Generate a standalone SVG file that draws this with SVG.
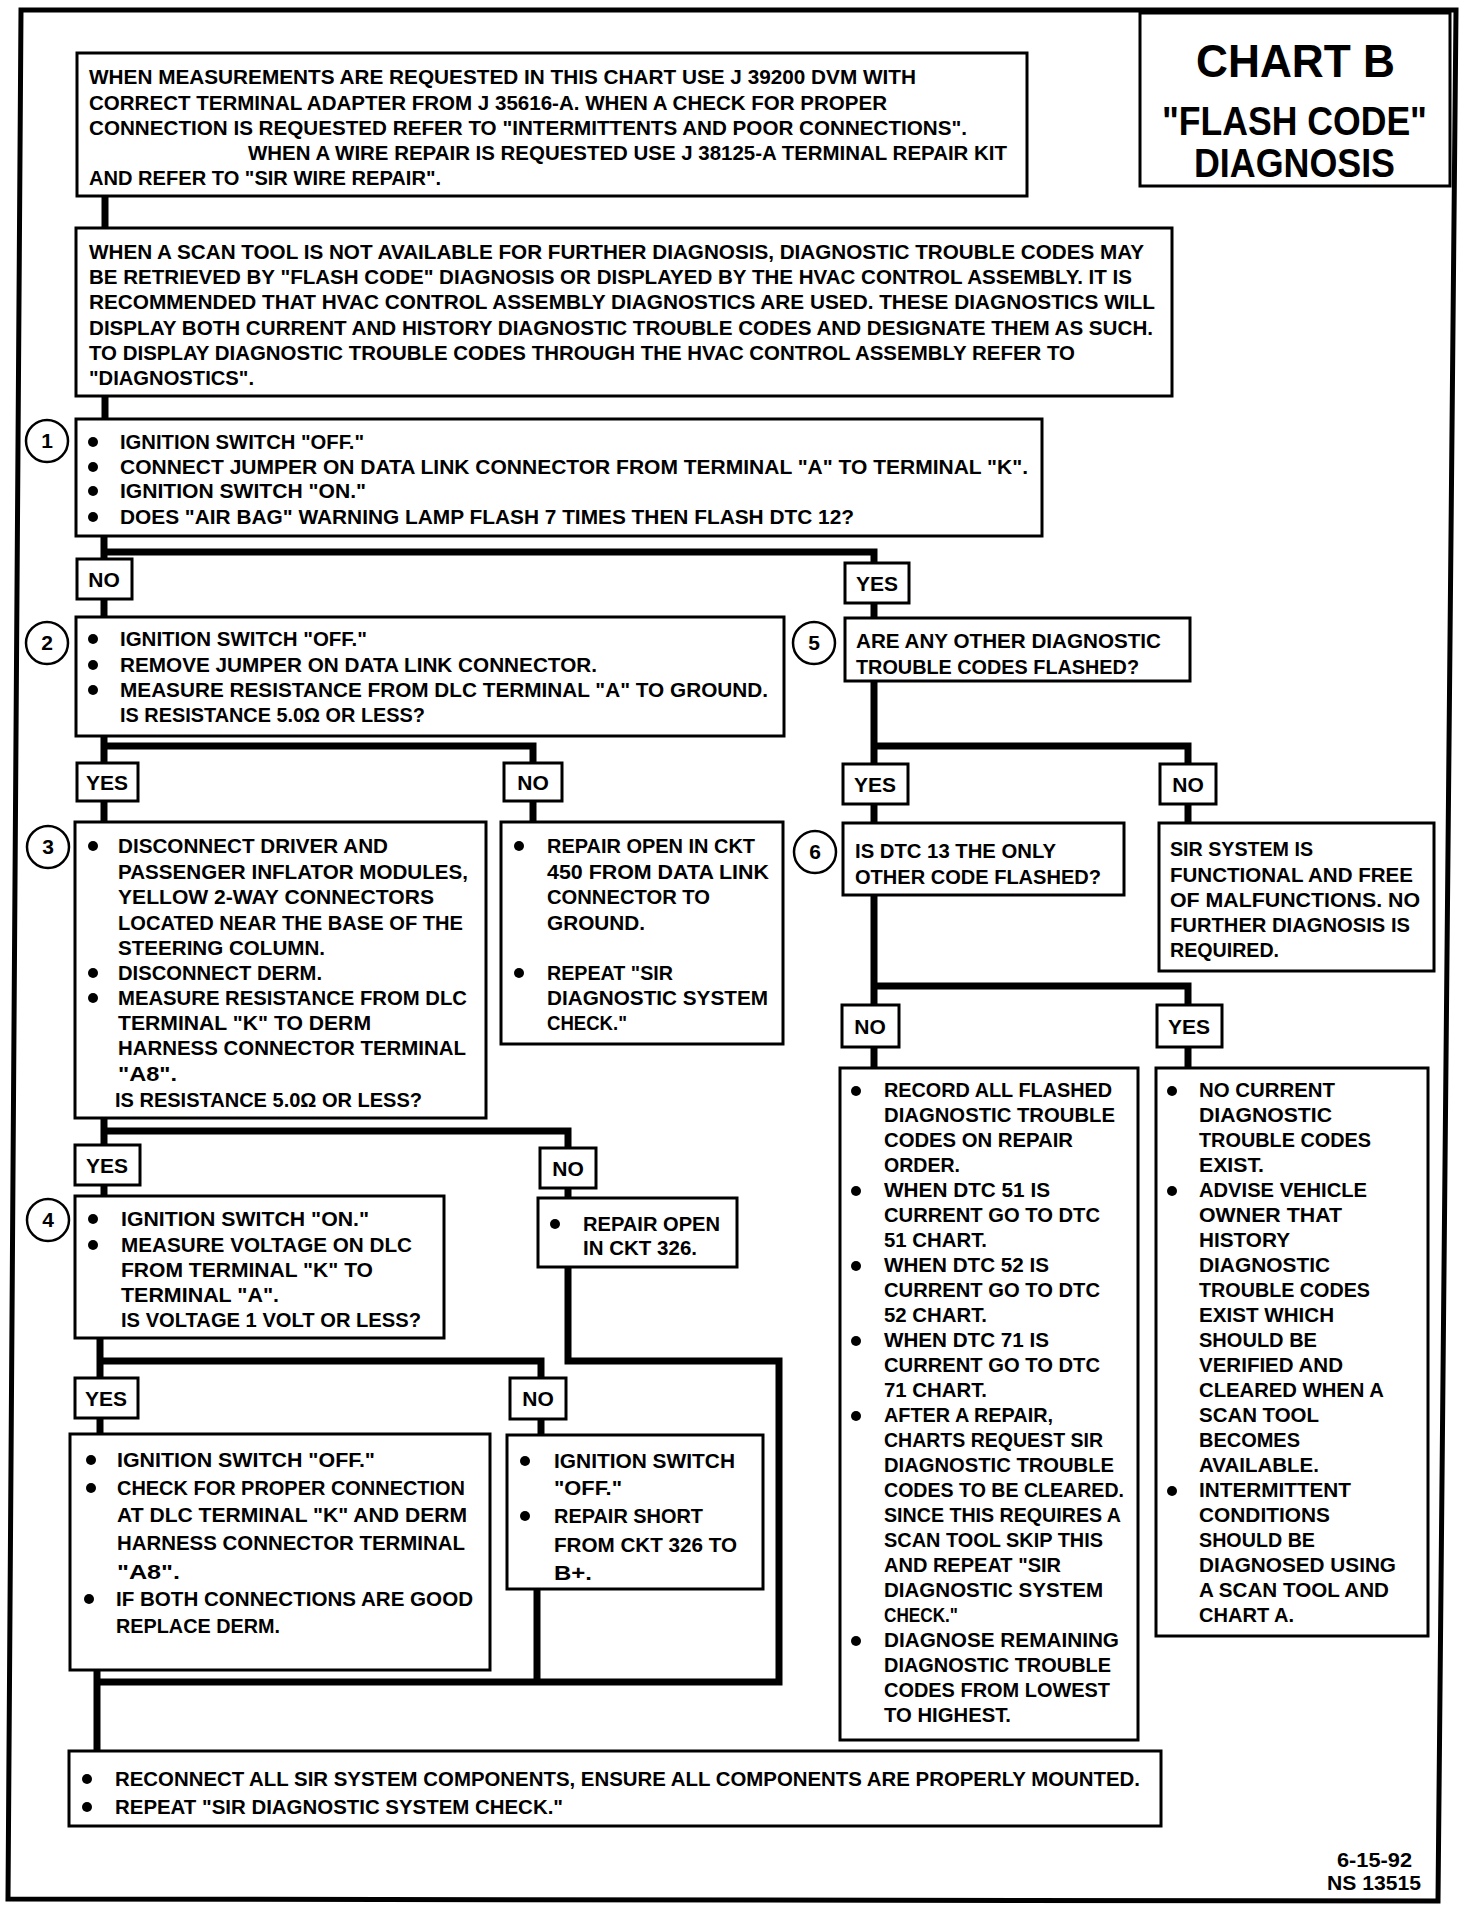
<svg xmlns="http://www.w3.org/2000/svg" width="1472" height="1912" viewBox="0 0 1472 1912">
<style>
.box{fill:#fff;stroke:#000;stroke-width:3}
.t{font-family:"Liberation Sans",Arial,sans-serif;font-weight:bold;font-size:21px;fill:#000}
.ttl{font-family:"Liberation Sans",Arial,sans-serif;font-weight:bold;fill:#000}
.m{text-anchor:middle}
.conn{fill:none;stroke:#000;stroke-width:7;stroke-linejoin:miter;stroke-linecap:butt}
.num{fill:#fff;stroke:#000;stroke-width:2.5}
.b{fill:#000}
</style>
<rect width="1472" height="1912" fill="#fff"/>
<polygon points="21,10 1456,10 1438,1901 8,1899" fill="none" stroke="#000" stroke-width="5"/>

<g id="connectors">
<path class="conn" d="M105 196V228"/>
<path class="conn" d="M105 396V419"/>
<path class="conn" d="M104 536V559M104 552H874V563"/>
<path class="conn" d="M104 599V617"/>
<path class="conn" d="M874 603V618"/>
<path class="conn" d="M104 736V763M104 746H533V763"/>
<path class="conn" d="M874 681V764M874 746H1188V764"/>
<path class="conn" d="M104 801V822"/>
<path class="conn" d="M533 801V822"/>
<path class="conn" d="M874 804V823"/>
<path class="conn" d="M1188 804V823"/>
<path class="conn" d="M104 1118V1145M104 1131H568V1148"/>
<path class="conn" d="M104 1185V1196"/>
<path class="conn" d="M568 1188V1198"/>
<path class="conn" d="M100 1338V1378M100 1361H541V1378"/>
<path class="conn" d="M100 1418V1434"/>
<path class="conn" d="M541 1419V1435"/>
<path class="conn" d="M568 1267V1361H779V1682H97"/>
<path class="conn" d="M537 1589V1682"/>
<path class="conn" d="M97 1670V1751"/>
<path class="conn" d="M874 895V1005M874 986H1188V1005"/>
<path class="conn" d="M874 1047V1068"/>
<path class="conn" d="M1188 1047V1068"/>
</g>

<g id="title">
<rect class="box" x="1140" y="13" width="310" height="173"/>
<text class="ttl" x="1196" y="77" style="font-size:46px" textLength="199" lengthAdjust="spacingAndGlyphs">CHART B</text>
<text class="ttl" x="1162" y="135" style="font-size:40px" textLength="265" lengthAdjust="spacingAndGlyphs">"FLASH CODE"</text>
<text class="ttl" x="1194" y="177" style="font-size:40px" textLength="201" lengthAdjust="spacingAndGlyphs">DIAGNOSIS</text>
</g>

<g id="noteA">
<rect class="box" x="77" y="53" width="950" height="143"/>
<text class="t" x="89" y="84" textLength="827" lengthAdjust="spacingAndGlyphs">WHEN MEASUREMENTS ARE REQUESTED IN THIS CHART USE J 39200 DVM WITH</text>
<text class="t" x="89" y="110" textLength="798" lengthAdjust="spacingAndGlyphs">CORRECT TERMINAL ADAPTER FROM J 35616-A.  WHEN A CHECK FOR PROPER</text>
<text class="t" x="89" y="135" textLength="878" lengthAdjust="spacingAndGlyphs">CONNECTION IS REQUESTED REFER TO "INTERMITTENTS AND POOR CONNECTIONS".</text>
<text class="t" x="248" y="160" textLength="759" lengthAdjust="spacingAndGlyphs">WHEN A WIRE REPAIR IS REQUESTED USE J 38125-A TERMINAL REPAIR KIT</text>
<text class="t" x="89" y="185" textLength="352" lengthAdjust="spacingAndGlyphs">AND REFER TO "SIR WIRE REPAIR".</text>
</g>

<g id="noteB">
<rect class="box" x="76" y="228" width="1096" height="168"/>
<text class="t" x="89" y="259" textLength="1055" lengthAdjust="spacingAndGlyphs">WHEN A SCAN TOOL IS NOT AVAILABLE FOR FURTHER DIAGNOSIS, DIAGNOSTIC TROUBLE CODES MAY</text>
<text class="t" x="89" y="284" textLength="1043" lengthAdjust="spacingAndGlyphs">BE RETRIEVED BY "FLASH CODE" DIAGNOSIS OR DISPLAYED BY THE HVAC CONTROL ASSEMBLY.  IT IS</text>
<text class="t" x="89" y="309" textLength="1066" lengthAdjust="spacingAndGlyphs">RECOMMENDED THAT HVAC CONTROL ASSEMBLY DIAGNOSTICS ARE USED.  THESE DIAGNOSTICS WILL</text>
<text class="t" x="89" y="335" textLength="1064" lengthAdjust="spacingAndGlyphs">DISPLAY BOTH CURRENT AND HISTORY DIAGNOSTIC TROUBLE CODES AND DESIGNATE THEM AS SUCH.</text>
<text class="t" x="89" y="360" textLength="986" lengthAdjust="spacingAndGlyphs">TO DISPLAY DIAGNOSTIC TROUBLE CODES THROUGH THE HVAC CONTROL ASSEMBLY REFER TO</text>
<text class="t" x="89" y="385" textLength="165" lengthAdjust="spacingAndGlyphs">"DIAGNOSTICS".</text>
</g>

<g id="step1">
<circle class="num" cx="47" cy="441" r="21"/>
<text class="t m" x="47" y="448">1</text>
<rect class="box" x="76" y="419" width="966" height="117"/>
<circle class="b" cx="93" cy="442" r="5"/>
<circle class="b" cx="93" cy="467" r="5"/>
<circle class="b" cx="93" cy="491" r="5"/>
<circle class="b" cx="93" cy="517" r="5"/>
<text class="t" x="120" y="449" textLength="244" lengthAdjust="spacingAndGlyphs">IGNITION SWITCH "OFF."</text>
<text class="t" x="120" y="474" textLength="908" lengthAdjust="spacingAndGlyphs">CONNECT JUMPER ON DATA LINK CONNECTOR FROM TERMINAL "A" TO TERMINAL "K".</text>
<text class="t" x="120" y="498" textLength="246" lengthAdjust="spacingAndGlyphs">IGNITION SWITCH "ON."</text>
<text class="t" x="120" y="524" textLength="734" lengthAdjust="spacingAndGlyphs">DOES  "AIR BAG" WARNING LAMP FLASH 7 TIMES THEN FLASH DTC 12?</text>
</g>

<g id="lbl1no"><rect class="box" x="77" y="559" width="55" height="40"/><text class="t m" x="104" y="587">NO</text></g>
<g id="lbl1yes"><rect class="box" x="845" y="563" width="64" height="40"/><text class="t m" x="877" y="591">YES</text></g>

<g id="step2">
<circle class="num" cx="47" cy="643" r="21"/>
<text class="t m" x="47" y="650">2</text>
<rect class="box" x="76" y="617" width="708" height="119"/>
<circle class="b" cx="93" cy="639" r="5"/>
<circle class="b" cx="93" cy="665" r="5"/>
<circle class="b" cx="93" cy="690" r="5"/>
<text class="t" x="120" y="646" textLength="247" lengthAdjust="spacingAndGlyphs">IGNITION SWITCH "OFF."</text>
<text class="t" x="120" y="672" textLength="477" lengthAdjust="spacingAndGlyphs">REMOVE JUMPER ON DATA LINK CONNECTOR.</text>
<text class="t" x="120" y="697" textLength="648" lengthAdjust="spacingAndGlyphs">MEASURE RESISTANCE FROM DLC TERMINAL "A" TO GROUND.</text>
<text class="t" x="120" y="722" textLength="305" lengthAdjust="spacingAndGlyphs">IS RESISTANCE 5.0Ω OR LESS?</text>
</g>

<g id="step5">
<circle class="num" cx="814" cy="643" r="21"/>
<text class="t m" x="814" y="650">5</text>
<rect class="box" x="845" y="618" width="345" height="63"/>
<text class="t" x="856" y="648" textLength="305" lengthAdjust="spacingAndGlyphs">ARE ANY OTHER DIAGNOSTIC</text>
<text class="t" x="856" y="674" textLength="283" lengthAdjust="spacingAndGlyphs">TROUBLE CODES FLASHED?</text>
</g>

<g id="lbl2yes"><rect class="box" x="77" y="763" width="61" height="38"/><text class="t m" x="107" y="790">YES</text></g>
<g id="lbl2no"><rect class="box" x="504" y="763" width="58" height="38"/><text class="t m" x="533" y="790">NO</text></g>
<g id="lbl5yes"><rect class="box" x="843" y="764" width="65" height="40"/><text class="t m" x="875" y="792">YES</text></g>
<g id="lbl5no"><rect class="box" x="1160" y="764" width="56" height="40"/><text class="t m" x="1188" y="792">NO</text></g>

<g id="step3">
<circle class="num" cx="48" cy="847" r="21"/>
<text class="t m" x="48" y="854">3</text>
<rect class="box" x="75" y="822" width="411" height="296"/>
<circle class="b" cx="93" cy="846" r="5"/>
<circle class="b" cx="93" cy="973" r="5"/>
<circle class="b" cx="93" cy="998" r="5"/>
<text class="t" x="118" y="853" textLength="270" lengthAdjust="spacingAndGlyphs">DISCONNECT DRIVER AND</text>
<text class="t" x="118" y="879" textLength="350" lengthAdjust="spacingAndGlyphs">PASSENGER INFLATOR MODULES,</text>
<text class="t" x="118" y="904" textLength="316" lengthAdjust="spacingAndGlyphs">YELLOW 2-WAY CONNECTORS</text>
<text class="t" x="118" y="930" textLength="345" lengthAdjust="spacingAndGlyphs">LOCATED NEAR THE BASE OF THE</text>
<text class="t" x="118" y="955" textLength="207" lengthAdjust="spacingAndGlyphs">STEERING COLUMN.</text>
<text class="t" x="118" y="980" textLength="204" lengthAdjust="spacingAndGlyphs">DISCONNECT DERM.</text>
<text class="t" x="118" y="1005" textLength="349" lengthAdjust="spacingAndGlyphs">MEASURE RESISTANCE FROM DLC</text>
<text class="t" x="118" y="1030" textLength="253" lengthAdjust="spacingAndGlyphs">TERMINAL "K" TO DERM</text>
<text class="t" x="118" y="1055" textLength="348" lengthAdjust="spacingAndGlyphs">HARNESS CONNECTOR TERMINAL</text>
<text class="t" x="118" y="1081" textLength="59" lengthAdjust="spacingAndGlyphs">"A8".</text>
<text class="t" x="115" y="1107" textLength="307" lengthAdjust="spacingAndGlyphs">IS RESISTANCE 5.0Ω OR LESS?</text>
</g>

<g id="repair450">
<rect class="box" x="501" y="822" width="282" height="222"/>
<circle class="b" cx="519" cy="846" r="5"/>
<circle class="b" cx="519" cy="973" r="5"/>
<text class="t" x="547" y="853" textLength="208" lengthAdjust="spacingAndGlyphs">REPAIR OPEN IN CKT</text>
<text class="t" x="547" y="879" textLength="222" lengthAdjust="spacingAndGlyphs">450 FROM DATA LINK</text>
<text class="t" x="547" y="904" textLength="163" lengthAdjust="spacingAndGlyphs">CONNECTOR TO</text>
<text class="t" x="547" y="930" textLength="98" lengthAdjust="spacingAndGlyphs">GROUND.</text>
<text class="t" x="547" y="980" textLength="126" lengthAdjust="spacingAndGlyphs">REPEAT "SIR</text>
<text class="t" x="547" y="1005" textLength="221" lengthAdjust="spacingAndGlyphs">DIAGNOSTIC SYSTEM</text>
<text class="t" x="547" y="1030" textLength="80" lengthAdjust="spacingAndGlyphs">CHECK."</text>
</g>

<g id="step6">
<circle class="num" cx="815" cy="852" r="21"/>
<text class="t m" x="815" y="859">6</text>
<rect class="box" x="843" y="823" width="281" height="72"/>
<text class="t" x="855" y="858" textLength="201" lengthAdjust="spacingAndGlyphs">IS DTC 13 THE ONLY</text>
<text class="t" x="855" y="884" textLength="246" lengthAdjust="spacingAndGlyphs">OTHER CODE FLASHED?</text>
</g>

<g id="sirok">
<rect class="box" x="1159" y="823" width="275" height="148"/>
<text class="t" x="1170" y="856" textLength="143" lengthAdjust="spacingAndGlyphs">SIR SYSTEM IS</text>
<text class="t" x="1170" y="882" textLength="243" lengthAdjust="spacingAndGlyphs">FUNCTIONAL AND FREE</text>
<text class="t" x="1170" y="907" textLength="250" lengthAdjust="spacingAndGlyphs">OF MALFUNCTIONS.  NO</text>
<text class="t" x="1170" y="932" textLength="240" lengthAdjust="spacingAndGlyphs">FURTHER DIAGNOSIS IS</text>
<text class="t" x="1170" y="957" textLength="109" lengthAdjust="spacingAndGlyphs">REQUIRED.</text>
</g>

<g id="lbl6no"><rect class="box" x="842" y="1005" width="57" height="42"/><text class="t m" x="870" y="1034">NO</text></g>
<g id="lbl6yes"><rect class="box" x="1157" y="1005" width="65" height="42"/><text class="t m" x="1189" y="1034">YES</text></g>

<g id="lbl3yes"><rect class="box" x="75" y="1145" width="65" height="40"/><text class="t m" x="107" y="1173">YES</text></g>
<g id="lbl3no"><rect class="box" x="540" y="1148" width="56" height="40"/><text class="t m" x="568" y="1176">NO</text></g>

<g id="step4">
<circle class="num" cx="48" cy="1220" r="21"/>
<text class="t m" x="48" y="1227">4</text>
<rect class="box" x="75" y="1196" width="369" height="142"/>
<circle class="b" cx="93" cy="1219" r="5"/>
<circle class="b" cx="93" cy="1245" r="5"/>
<text class="t" x="121" y="1226" textLength="248" lengthAdjust="spacingAndGlyphs">IGNITION SWITCH "ON."</text>
<text class="t" x="121" y="1252" textLength="291" lengthAdjust="spacingAndGlyphs">MEASURE VOLTAGE ON DLC</text>
<text class="t" x="121" y="1277" textLength="252" lengthAdjust="spacingAndGlyphs">FROM TERMINAL "K" TO</text>
<text class="t" x="121" y="1302" textLength="158" lengthAdjust="spacingAndGlyphs">TERMINAL "A".</text>
<text class="t" x="121" y="1327" textLength="300" lengthAdjust="spacingAndGlyphs">IS VOLTAGE 1 VOLT OR LESS?</text>
</g>

<g id="repair326">
<rect class="box" x="538" y="1198" width="199" height="69"/>
<circle class="b" cx="555" cy="1224" r="5"/>
<text class="t" x="583" y="1231" textLength="137" lengthAdjust="spacingAndGlyphs">REPAIR OPEN</text>
<text class="t" x="583" y="1255" textLength="114" lengthAdjust="spacingAndGlyphs">IN CKT 326.</text>
</g>

<g id="lbl4yes"><rect class="box" x="75" y="1378" width="63" height="40"/><text class="t m" x="106" y="1406">YES</text></g>
<g id="lbl4no"><rect class="box" x="510" y="1378" width="56" height="41"/><text class="t m" x="538" y="1406">NO</text></g>

<g id="checkconn">
<rect class="box" x="70" y="1434" width="420" height="236"/>
<circle class="b" cx="91" cy="1460" r="5"/>
<circle class="b" cx="91" cy="1488" r="5"/>
<circle class="b" cx="89" cy="1599" r="5"/>
<text class="t" x="117" y="1467" textLength="258" lengthAdjust="spacingAndGlyphs">IGNITION SWITCH "OFF."</text>
<text class="t" x="117" y="1495" textLength="348" lengthAdjust="spacingAndGlyphs">CHECK FOR PROPER CONNECTION</text>
<text class="t" x="117" y="1522" textLength="350" lengthAdjust="spacingAndGlyphs">AT DLC TERMINAL "K" AND DERM</text>
<text class="t" x="117" y="1550" textLength="348" lengthAdjust="spacingAndGlyphs">HARNESS CONNECTOR TERMINAL</text>
<text class="t" x="117" y="1579" textLength="63" lengthAdjust="spacingAndGlyphs">"A8".</text>
<text class="t" x="116" y="1606" textLength="357" lengthAdjust="spacingAndGlyphs">IF BOTH CONNECTIONS ARE GOOD</text>
<text class="t" x="116" y="1633" textLength="164" lengthAdjust="spacingAndGlyphs">REPLACE DERM.</text>
</g>

<g id="repairshort">
<rect class="box" x="507" y="1435" width="256" height="154"/>
<circle class="b" cx="525" cy="1461" r="5"/>
<circle class="b" cx="525" cy="1516" r="5"/>
<text class="t" x="554" y="1468" textLength="181" lengthAdjust="spacingAndGlyphs">IGNITION SWITCH</text>
<text class="t" x="554" y="1495" textLength="68" lengthAdjust="spacingAndGlyphs">"OFF."</text>
<text class="t" x="554" y="1523" textLength="149" lengthAdjust="spacingAndGlyphs">REPAIR SHORT</text>
<text class="t" x="554" y="1552" textLength="183" lengthAdjust="spacingAndGlyphs">FROM CKT 326 TO</text>
<text class="t" x="554" y="1580" textLength="38" lengthAdjust="spacingAndGlyphs">B+.</text>
</g>

<g id="record">
<rect class="box" x="840" y="1068" width="298" height="672"/>
<circle class="b" cx="856" cy="1091" r="5"/>
<circle class="b" cx="856" cy="1191" r="5"/>
<circle class="b" cx="856" cy="1266" r="5"/>
<circle class="b" cx="856" cy="1341" r="5"/>
<circle class="b" cx="856" cy="1416" r="5"/>
<circle class="b" cx="856" cy="1641" r="5"/>
<text class="t" x="884" y="1097" textLength="228" lengthAdjust="spacingAndGlyphs">RECORD ALL FLASHED</text>
<text class="t" x="884" y="1122" textLength="231" lengthAdjust="spacingAndGlyphs">DIAGNOSTIC TROUBLE</text>
<text class="t" x="884" y="1147" textLength="189" lengthAdjust="spacingAndGlyphs">CODES ON REPAIR</text>
<text class="t" x="884" y="1172" textLength="76" lengthAdjust="spacingAndGlyphs">ORDER.</text>
<text class="t" x="884" y="1197" textLength="166" lengthAdjust="spacingAndGlyphs">WHEN DTC 51 IS</text>
<text class="t" x="884" y="1222" textLength="216" lengthAdjust="spacingAndGlyphs">CURRENT GO TO DTC</text>
<text class="t" x="884" y="1247" textLength="103" lengthAdjust="spacingAndGlyphs">51 CHART.</text>
<text class="t" x="884" y="1272" textLength="165" lengthAdjust="spacingAndGlyphs">WHEN DTC 52 IS</text>
<text class="t" x="884" y="1297" textLength="216" lengthAdjust="spacingAndGlyphs">CURRENT GO TO DTC</text>
<text class="t" x="884" y="1322" textLength="103" lengthAdjust="spacingAndGlyphs">52 CHART.</text>
<text class="t" x="884" y="1347" textLength="165" lengthAdjust="spacingAndGlyphs">WHEN DTC 71 IS</text>
<text class="t" x="884" y="1372" textLength="216" lengthAdjust="spacingAndGlyphs">CURRENT GO TO DTC</text>
<text class="t" x="884" y="1397" textLength="103" lengthAdjust="spacingAndGlyphs">71 CHART.</text>
<text class="t" x="884" y="1422" textLength="169" lengthAdjust="spacingAndGlyphs">AFTER A REPAIR,</text>
<text class="t" x="884" y="1447" textLength="219" lengthAdjust="spacingAndGlyphs">CHARTS REQUEST SIR</text>
<text class="t" x="884" y="1472" textLength="230" lengthAdjust="spacingAndGlyphs">DIAGNOSTIC TROUBLE</text>
<text class="t" x="884" y="1497" textLength="240" lengthAdjust="spacingAndGlyphs">CODES TO BE CLEARED.</text>
<text class="t" x="884" y="1522" textLength="237" lengthAdjust="spacingAndGlyphs">SINCE THIS REQUIRES A</text>
<text class="t" x="884" y="1547" textLength="219" lengthAdjust="spacingAndGlyphs">SCAN TOOL SKIP THIS</text>
<text class="t" x="884" y="1572" textLength="177" lengthAdjust="spacingAndGlyphs">AND REPEAT "SIR</text>
<text class="t" x="884" y="1597" textLength="219" lengthAdjust="spacingAndGlyphs">DIAGNOSTIC SYSTEM</text>
<text class="t" x="884" y="1622" textLength="74" lengthAdjust="spacingAndGlyphs">CHECK."</text>
<text class="t" x="884" y="1647" textLength="235" lengthAdjust="spacingAndGlyphs">DIAGNOSE REMAINING</text>
<text class="t" x="884" y="1672" textLength="227" lengthAdjust="spacingAndGlyphs">DIAGNOSTIC TROUBLE</text>
<text class="t" x="884" y="1697" textLength="226" lengthAdjust="spacingAndGlyphs">CODES FROM LOWEST</text>
<text class="t" x="884" y="1722" textLength="127" lengthAdjust="spacingAndGlyphs">TO HIGHEST.</text>
</g>

<g id="nocurrent">
<rect class="box" x="1156" y="1068" width="272" height="568"/>
<circle class="b" cx="1172" cy="1091" r="5"/>
<circle class="b" cx="1172" cy="1191" r="5"/>
<circle class="b" cx="1172" cy="1491" r="5"/>
<text class="t" x="1199" y="1097" textLength="136" lengthAdjust="spacingAndGlyphs">NO CURRENT</text>
<text class="t" x="1199" y="1122" textLength="133" lengthAdjust="spacingAndGlyphs">DIAGNOSTIC</text>
<text class="t" x="1199" y="1147" textLength="172" lengthAdjust="spacingAndGlyphs">TROUBLE CODES</text>
<text class="t" x="1199" y="1172" textLength="65" lengthAdjust="spacingAndGlyphs">EXIST.</text>
<text class="t" x="1199" y="1197" textLength="168" lengthAdjust="spacingAndGlyphs">ADVISE VEHICLE</text>
<text class="t" x="1199" y="1222" textLength="143" lengthAdjust="spacingAndGlyphs">OWNER THAT</text>
<text class="t" x="1199" y="1247" textLength="91" lengthAdjust="spacingAndGlyphs">HISTORY</text>
<text class="t" x="1199" y="1272" textLength="131" lengthAdjust="spacingAndGlyphs">DIAGNOSTIC</text>
<text class="t" x="1199" y="1297" textLength="171" lengthAdjust="spacingAndGlyphs">TROUBLE CODES</text>
<text class="t" x="1199" y="1322" textLength="135" lengthAdjust="spacingAndGlyphs">EXIST WHICH</text>
<text class="t" x="1199" y="1347" textLength="118" lengthAdjust="spacingAndGlyphs">SHOULD BE</text>
<text class="t" x="1199" y="1372" textLength="144" lengthAdjust="spacingAndGlyphs">VERIFIED AND</text>
<text class="t" x="1199" y="1397" textLength="185" lengthAdjust="spacingAndGlyphs">CLEARED WHEN A</text>
<text class="t" x="1199" y="1422" textLength="120" lengthAdjust="spacingAndGlyphs">SCAN TOOL</text>
<text class="t" x="1199" y="1447" textLength="101" lengthAdjust="spacingAndGlyphs">BECOMES</text>
<text class="t" x="1199" y="1472" textLength="120" lengthAdjust="spacingAndGlyphs">AVAILABLE.</text>
<text class="t" x="1199" y="1497" textLength="152" lengthAdjust="spacingAndGlyphs">INTERMITTENT</text>
<text class="t" x="1199" y="1522" textLength="131" lengthAdjust="spacingAndGlyphs">CONDITIONS</text>
<text class="t" x="1199" y="1547" textLength="116" lengthAdjust="spacingAndGlyphs">SHOULD BE</text>
<text class="t" x="1199" y="1572" textLength="197" lengthAdjust="spacingAndGlyphs">DIAGNOSED USING</text>
<text class="t" x="1199" y="1597" textLength="190" lengthAdjust="spacingAndGlyphs">A SCAN TOOL AND</text>
<text class="t" x="1199" y="1622" textLength="95" lengthAdjust="spacingAndGlyphs">CHART A.</text>
</g>

<g id="reconnect">
<rect class="box" x="69" y="1751" width="1092" height="75"/>
<circle class="b" cx="87" cy="1779" r="5"/>
<circle class="b" cx="87" cy="1807" r="5"/>
<text class="t" x="115" y="1786" textLength="1025" lengthAdjust="spacingAndGlyphs">RECONNECT ALL SIR SYSTEM COMPONENTS, ENSURE ALL COMPONENTS ARE PROPERLY MOUNTED.</text>
<text class="t" x="115" y="1814" textLength="448" lengthAdjust="spacingAndGlyphs">REPEAT "SIR DIAGNOSTIC SYSTEM CHECK."</text>
</g>

<g id="stamp">
<text class="t" x="1337" y="1867" textLength="75" lengthAdjust="spacingAndGlyphs">6-15-92</text>
<text class="t" x="1327" y="1890" textLength="94" lengthAdjust="spacingAndGlyphs">NS 13515</text>
</g>
</svg>
